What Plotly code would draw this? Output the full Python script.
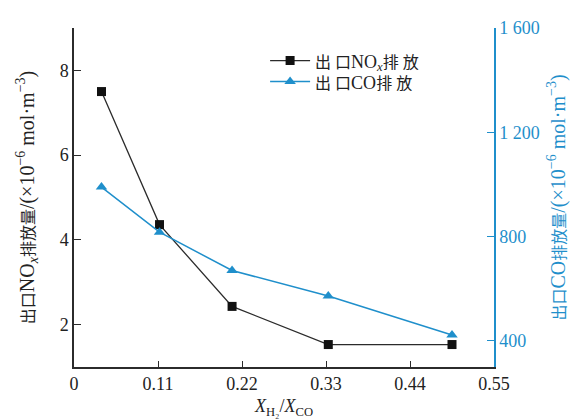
import plotly.graph_objects as go

x_ratio = [0.036, 0.112, 0.207, 0.333, 0.495]
nox = [7.5, 4.36, 2.43, 1.53, 1.53]
co = [990, 817, 670, 572, 423]

x_ticks = [0, 0.11, 0.22, 0.33, 0.44, 0.55]
x_ticktext = ["0", "0.11", "0.22", "0.33", "0.44", "0.55"]
y1_ticks = [2, 4, 6, 8, 9]
y1_ticktext = ["2", "4", "6", "8", ""]
y2_ticks = [400, 800, 1200, 1600]
y2_ticktext = ["400", "800", "1 200", "1 600"]

BLUE = "#1f8fcb"
DARK = "#2b2b2b"
FONT = "Liberation Serif, Noto Sans CJK SC, serif"


def cjk(s, size=16):
    return f"<span style='font-size:{size}px'>{s}</span>"


name_nox = cjk("出 口") + "NO<sub><i>x</i></sub>" + cjk("排 放")
name_co = cjk("出 口") + "CO" + cjk("排 放")
title_nox = (cjk("出口") + "NO<sub><i>x</i></sub>" + cjk("排放量")
             + "/(×10<sup>−6</sup> mol·m<sup>−3</sup>)")
title_co = (cjk("出口") + "CO" + cjk("排放量")
            + "/(×10<sup>−6</sup> mol·m<sup>−3</sup>)")

fig = go.Figure()
fig.add_trace(go.Scatter(
    x=x_ratio, y=nox, name=name_nox,
    mode="lines+markers",
    line=dict(color=DARK, width=1.3),
    marker=dict(symbol="square", size=9, color="#111111"),
    yaxis="y", legend="legend"))
fig.add_trace(go.Scatter(
    x=x_ratio, y=co, name=name_co,
    mode="lines+markers",
    line=dict(color=BLUE, width=1.5),
    marker=dict(symbol="triangle-up", size=10, color=BLUE),
    yaxis="y2", legend="legend2"))

legend_common = dict(xanchor="left", yanchor="middle",
                     bgcolor="rgba(0,0,0,0)", font=dict(size=18),
                     itemwidth=40)

fig.update_layout(
    width=579, height=420,
    margin=dict(l=66, r=93, t=20, b=61, autoexpand=False),
    paper_bgcolor="white", plot_bgcolor="white",
    font=dict(family=FONT, size=18, color="#222222"),
    showlegend=True,
    legend=dict(x=0.455, y=0.903, **legend_common),
    legend2=dict(x=0.455, y=0.841, **legend_common),
    xaxis=dict(range=[0, 0.55], tickvals=x_ticks, ticktext=x_ticktext,
               ticks="inside", ticklen=6, tickcolor=DARK,
               showline=True, linecolor=DARK, linewidth=1.5,
               showgrid=False, zeroline=False, automargin=False,
               tickfont=dict(size=18),
               title=dict(text="<i>X</i><sub>H₂</sub>/<i>X</i><sub>CO</sub>",
                          font=dict(size=18), standoff=6)),
    yaxis=dict(range=[1, 9], tickvals=y1_ticks, ticktext=y1_ticktext,
               ticks="inside", ticklen=7, tickcolor=DARK,
               showline=True, linecolor=DARK, linewidth=1.5,
               showgrid=False, zeroline=False, automargin=False,
               tickfont=dict(size=18),
               title=dict(text=title_nox, font=dict(size=20), standoff=20)),
    yaxis2=dict(range=[300, 1600], tickvals=y2_ticks, ticktext=y2_ticktext,
                overlaying="y", side="right", anchor="x",
                ticks="inside", ticklen=7, tickcolor=BLUE,
                showline=True, linecolor=BLUE, linewidth=1.5,
                showgrid=False, zeroline=False, automargin=False,
                tickfont=dict(size=18, color=BLUE),
                title=dict(text=title_co, font=dict(size=20, color=BLUE),
                           standoff=12)),
)

fig.write_html("out.html")
